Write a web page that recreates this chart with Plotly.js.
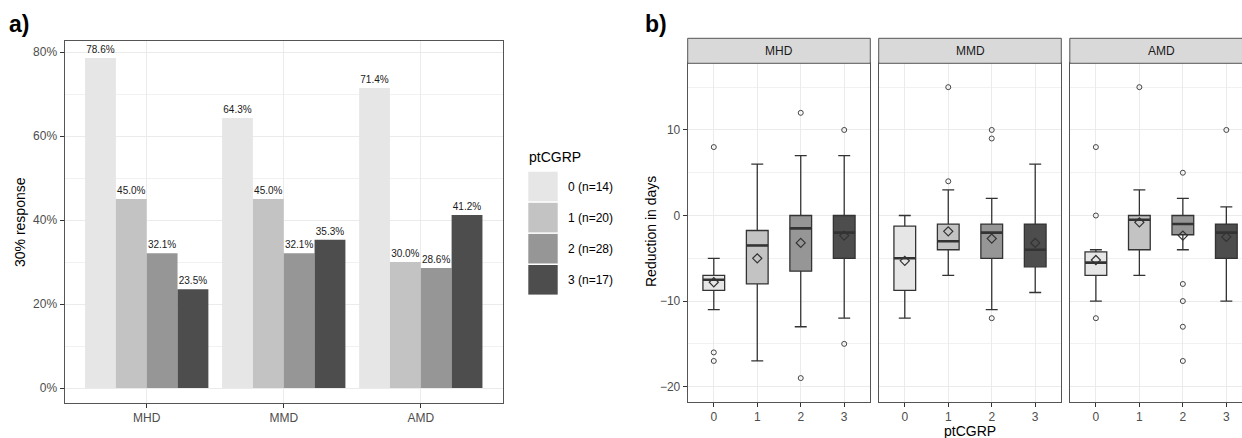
<!DOCTYPE html>
<html>
<head>
<meta charset="utf-8">
<script src="https://cdn.plot.ly/plotly-3.0.1.min.js"></script>
<style>
html,body{margin:0;padding:0;background:#fff;}
#chart{width:1242px;height:438px;}
</style>
</head>
<body>
<div id="chart"></div>
<script>
// ---------- data ----------
const outcomes = ['MHD', 'MMD', 'AMD'];
const groups = ['0', '1', '2', '3'];
const groupN = [14, 20, 28, 17];

// panel a: 30% response rate (%) per ptCGRP group, over outcomes
const response0 = [78.6, 64.3, 71.4];
const response1 = [45.0, 45.0, 30.0];
const response2 = [32.1, 32.1, 28.6];
const response3 = [23.5, 35.3, 41.2];

// panel b: box statistics per outcome, over groups 0..3
const mhdLower = [-11, -17, -13, -12];
const mhdQ1 = [-8.75, -8, -6.5, -5];
const mhdMedian = [-7.5, -3.5, -1.5, -2];
const mhdQ3 = [-7, -1.75, 0, 0];
const mhdUpper = [-5, 6, 7, 7];
const mhdMean = [-7.8, -5.0, -3.2, -2.35];
const mhdOutliers = [[8, -16, -17], [], [12, -19], [10, -15]];

const mmdLower = [-12, -7, -11, -9];
const mmdQ1 = [-8.75, -4, -5, -6];
const mmdMedian = [-5, -3, -2, -4];
const mmdQ3 = [-1.25, -1, -1, -1];
const mmdUpper = [0, 3, 2, 6];
const mmdMean = [-5.3, -1.85, -2.7, -3.2];
const mmdOutliers = [[], [15, 4], [10, 9, -12], []];

const amdLower = [-10, -7, -4, -10];
const amdQ1 = [-7, -4, -2.25, -5];
const amdMedian = [-5.5, -0.5, -1, -2];
const amdQ3 = [-4.25, 0, 0, -1];
const amdUpper = [-4, 3, 2, 1];
const amdMean = [-5.2, -0.8, -2.35, -2.5];
const amdOutliers = [[8, 0, -12], [15], [5, -8, -10, -13, -17], [10]];

// ---------- style ----------
const fills = ['#E6E6E6', '#C3C3C3', '#969696', '#4D4D4D'];
const FONT = 'Liberation Sans, Arial, sans-serif';
const W = 1242, H = 438;
const px = v => v / W;
const py = v => (H - v) / H;
const lineCol = '#555555';
const gridCol = '#EBEBEB';
const tickCol = '#4D4D4D';
const boxWidth = 0.5;

const responses = [response0, response1, response2, response3];
const traces = [];

// panel a bars
responses.forEach((vals, g) => {
  traces.push({
    type: 'bar', x: outcomes, y: vals, xaxis: 'x', yaxis: 'y',
    marker: {color: fills[g], line: {width: 0}},
    text: vals.map(v => v.toFixed(1) + '%'),
    textposition: 'outside', constraintext: 'none', cliponaxis: false,
    textfont: {family: FONT, size: 10, color: '#1a1a1a'},
    hoverinfo: 'skip', showlegend: false
  });
});

// panel b boxes
const facets = [
  {ax: ['x2', 'y2'], lo: mhdLower, q1: mhdQ1, md: mhdMedian, q3: mhdQ3, up: mhdUpper, mn: mhdMean, out: mhdOutliers},
  {ax: ['x3', 'y3'], lo: mmdLower, q1: mmdQ1, md: mmdMedian, q3: mmdQ3, up: mmdUpper, mn: mmdMean, out: mmdOutliers},
  {ax: ['x4', 'y4'], lo: amdLower, q1: amdQ1, md: amdMedian, q3: amdQ3, up: amdUpper, mn: amdMean, out: amdOutliers}
];
facets.forEach(f => {
  groups.forEach((gname, g) => {
    traces.push({
      type: 'box', x: [g], q1: [f.q1[g]], median: [f.md[g]], q3: [f.q3[g]],
      lowerfence: [f.lo[g]], upperfence: [f.up[g]],
      xaxis: f.ax[0], yaxis: f.ax[1], width: boxWidth, whiskerwidth: 0.55,
      fillcolor: fills[g], line: {color: '#333333', width: 1.3},
      boxpoints: false, hoverinfo: 'skip', showlegend: false
    });
    // thicker median line
    traces.push({
      type: 'scatter', mode: 'lines', x: [g - boxWidth / 2, g + boxWidth / 2], y: [f.md[g], f.md[g]],
      xaxis: f.ax[0], yaxis: f.ax[1], line: {color: '#333333', width: 2.6},
      hoverinfo: 'skip', showlegend: false
    });
    if (f.out[g].length) {
      traces.push({
        type: 'scatter', mode: 'markers', x: f.out[g].map(() => g), y: f.out[g],
        xaxis: f.ax[0], yaxis: f.ax[1], cliponaxis: false,
        marker: {symbol: 'circle-open', size: 5, color: '#444444', line: {width: 1}},
        hoverinfo: 'skip', showlegend: false
      });
    }
  });
  // means
  traces.push({
    type: 'scatter', mode: 'markers', x: groups.map((_, g) => g), y: f.mn,
    xaxis: f.ax[0], yaxis: f.ax[1],
    marker: {symbol: 'diamond-open', size: 7, color: '#333333', line: {width: 1.2}},
    hoverinfo: 'skip', showlegend: false
  });
});

// ---------- axes ----------
const tickFont = {family: FONT, size: 12, color: tickCol};
const baseAxis = {
  showline: true, linecolor: lineCol, linewidth: 1, mirror: true,
  ticks: 'outside', ticklen: 4, tickcolor: '#333333', tickwidth: 1,
  showgrid: true, gridcolor: gridCol, gridwidth: 1, zeroline: false,
  tickfont: tickFont, fixedrange: true
};

const bDomY = [py(401.7), py(63.3)];
const bRange = [-21.76, 17.79];
const minorB = {dtick: 5, tick0: 0, showgrid: true, gridcolor: '#F1F1F1', gridwidth: 1, ticks: ''};

const layout = {
  width: W, height: H,
  margin: {l: 0, r: 0, t: 0, b: 0, pad: 0},
  paper_bgcolor: '#ffffff', plot_bgcolor: '#ffffff',
  barmode: 'group', bargap: 0.1, bargroupgap: 0,
  boxmode: 'overlay',
  font: {family: FONT, color: '#000'},
  showlegend: false,
  xaxis: Object.assign({}, baseAxis, {
    type: 'category', domain: [px(64.5), px(503)], anchor: 'y',
    range: [-0.6, 2.6]
  }),
  yaxis: Object.assign({}, baseAxis, {
    domain: [py(403), py(41)], anchor: 'x',
    range: [-3.57, 82.62], tick0: 0, dtick: 20, ticksuffix: '%',
    minor: {dtick: 10, tick0: 0, showgrid: true, gridcolor: '#F1F1F1', gridwidth: 1, ticks: ''}
  }),
  xaxis2: Object.assign({}, baseAxis, {
    domain: [px(687.7), px(870.3)], anchor: 'y2', range: [-0.6, 3.6],
    tickvals: [0, 1, 2, 3], ticktext: groups
  }),
  yaxis2: Object.assign({}, baseAxis, {
    domain: bDomY, anchor: 'x2', range: bRange, tick0: 0, dtick: 10, minor: minorB
  }),
  xaxis3: Object.assign({}, baseAxis, {
    domain: [px(878.7), px(1061.3)], anchor: 'y3', range: [-0.6, 3.6],
    tickvals: [0, 1, 2, 3], ticktext: groups
  }),
  yaxis3: Object.assign({}, baseAxis, {
    domain: bDomY, anchor: 'x3', range: bRange, tick0: 0, dtick: 10, minor: minorB,
    showticklabels: false, ticks: ''
  }),
  xaxis4: Object.assign({}, baseAxis, {
    domain: [px(1069.8), 1], anchor: 'y4', range: [-0.6, -0.6 + (W - 1069.8) / 43.48],
    tickvals: [0, 1, 2, 3], ticktext: groups
  }),
  yaxis4: Object.assign({}, baseAxis, {
    domain: bDomY, anchor: 'x4', range: bRange, tick0: 0, dtick: 10, minor: minorB,
    showticklabels: false, ticks: '', mirror: false
  }),
  shapes: [],
  annotations: []
};

// facet strips
const stripX = [[687.7, 870.3], [878.7, 1061.3], [1069.8, 1252.4]];
outcomes.forEach((name, i) => {
  layout.shapes.push({
    type: 'rect', xref: 'paper', yref: 'paper',
    x0: px(stripX[i][0]), x1: px(stripX[i][1]), y0: py(63.3), y1: py(38.3),
    fillcolor: '#D9D9D9', line: {color: lineCol, width: 1}, layer: 'above'
  });
  layout.annotations.push({
    xref: 'paper', yref: 'paper', x: px((stripX[i][0] + stripX[i][1]) / 2), y: py(51),
    text: name, showarrow: false, xanchor: 'center', yanchor: 'middle',
    font: {family: FONT, size: 12, color: '#1A1A1A'}
  });
});

// legend for panel a (drawn keys)
layout.annotations.push({
  xref: 'paper', yref: 'paper', x: px(527), y: py(157), text: 'ptCGRP', showarrow: false,
  xanchor: 'left', yanchor: 'middle', font: {family: FONT, size: 14, color: '#000'}
});
groups.forEach((gname, g) => {
  const top = 171.7 + g * 31.1;
  layout.shapes.push({
    type: 'rect', xref: 'paper', yref: 'paper',
    x0: px(528.3), x1: px(557.7), y0: py(top + 29.6), y1: py(top),
    fillcolor: fills[g], line: {width: 0}
  });
  layout.annotations.push({
    xref: 'paper', yref: 'paper', x: px(566), y: py(top + 15), text: gname + ' (n=' + groupN[g] + ')',
    showarrow: false, xanchor: 'left', yanchor: 'middle',
    font: {family: FONT, size: 12, color: '#000'}
  });
});

// titles
layout.annotations.push(
  {xref: 'paper', yref: 'paper', x: px(7), y: py(24), text: '<b>a)</b>', showarrow: false,
   xanchor: 'left', yanchor: 'middle', font: {family: FONT, size: 23, color: '#000'}},
  {xref: 'paper', yref: 'paper', x: px(643), y: py(24), text: '<b>b)</b>', showarrow: false,
   xanchor: 'left', yanchor: 'middle', font: {family: FONT, size: 23, color: '#000'}},
  {xref: 'paper', yref: 'paper', x: px(20), y: py(222), text: '30% response', textangle: -90,
   showarrow: false, xanchor: 'center', yanchor: 'middle', font: {family: FONT, size: 14, color: '#000'}},
  {xref: 'paper', yref: 'paper', x: px(651), y: py(232), text: 'Reduction in days', textangle: -90,
   showarrow: false, xanchor: 'center', yanchor: 'middle', font: {family: FONT, size: 14, color: '#000'}},
  {xref: 'paper', yref: 'paper', x: px(970), y: py(431), text: 'ptCGRP',
   showarrow: false, xanchor: 'center', yanchor: 'middle', font: {family: FONT, size: 14, color: '#000'}}
);

Plotly.newPlot('chart', traces, layout, {staticPlot: true, displayModeBar: false});
</script>
</body>
</html>
